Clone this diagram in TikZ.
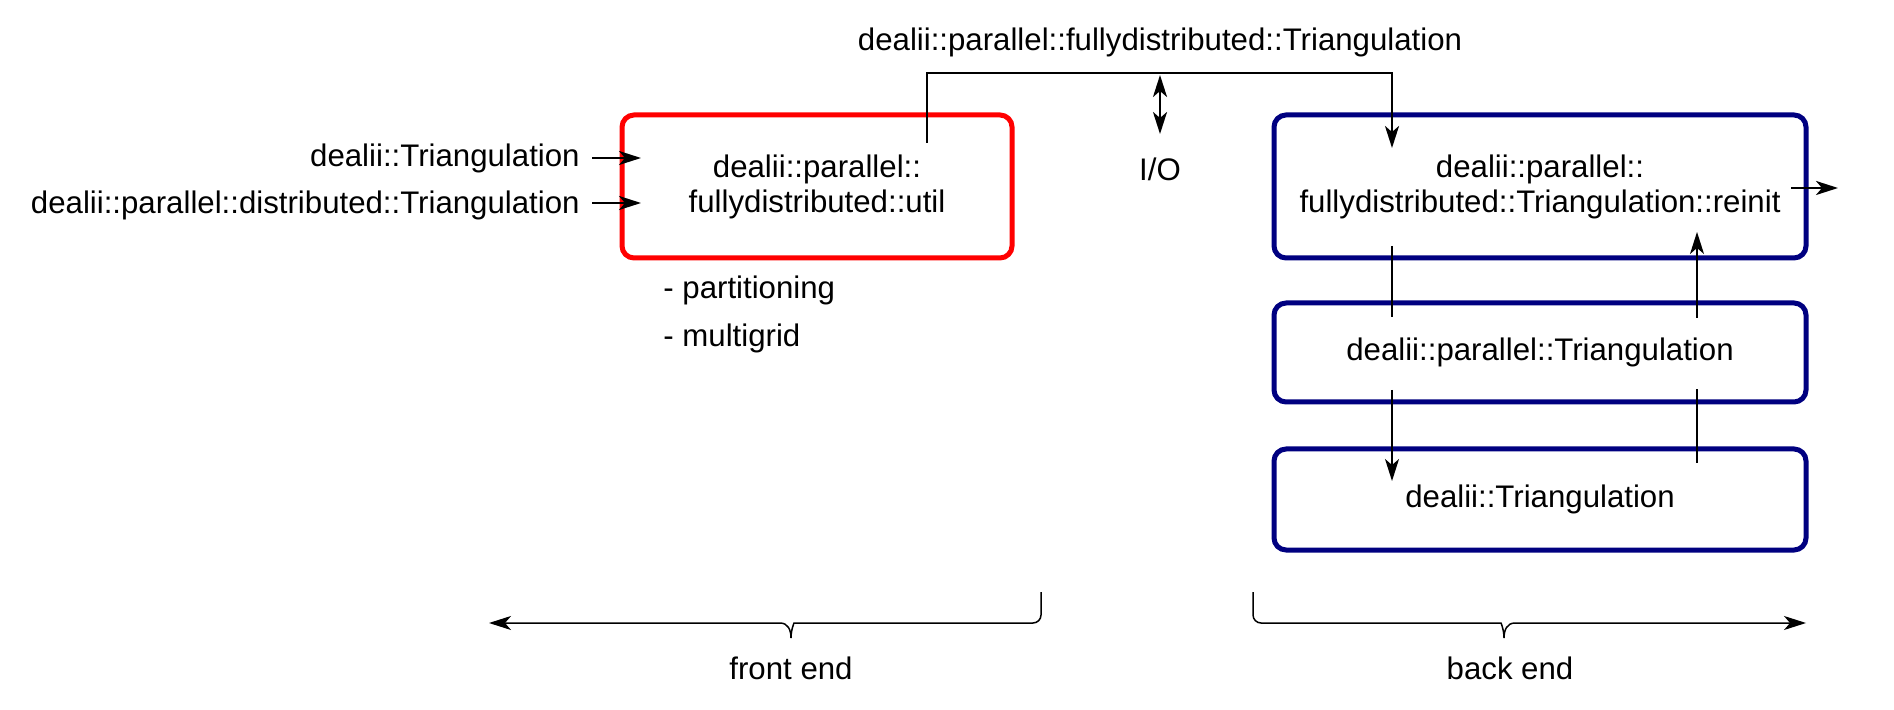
\documentclass[tikz,border=0pt]{standalone}
\usepackage{fontspec}
\setmainfont{Liberation Sans}
\usetikzlibrary{arrows.meta}
\definecolor{navyb}{RGB}{0,0,128}
\begin{document}
\begin{tikzpicture}[x=0.5pt,y=-0.5pt,
  every node/.style={font=\fontsize{15.6}{17.5}\selectfont, inner sep=0pt, align=center},
  tip/.style={-{Stealth[length=11pt,width=7pt,inset=3pt]}},
  dtip/.style={{Stealth[length=11pt,width=7pt,inset=3pt]}-{Stealth[length=11pt,width=7pt,inset=3pt]}},
  redbox/.style={draw=red, line width=2.5pt, rounded corners=6pt, minimum width=195pt, minimum height=71.5pt},
  bluebox/.style={draw=navyb, line width=2.5pt, rounded corners=6pt, minimum width=266pt},
  thick conn/.style={line width=1.3pt},
  thin conn/.style={line width=0.7pt},
  brace/.style={line width=0.75pt}]
\useasboundingbox (0,0) rectangle (1894,710);

% boxes
\node[redbox] (util) at (817,186.5) {dealii::parallel::\\fullydistributed::util};
\node[bluebox, minimum height=71.5pt] (reinit) at (1540,186.5) {dealii::parallel::\\fullydistributed::Triangulation::reinit};
\node[bluebox, minimum height=49.5pt] (ptria) at (1540,352.5) {dealii::parallel::Triangulation};
\node[bluebox, minimum height=50.5pt] (tria) at (1540,499.5) {dealii::Triangulation};

% texts
\node (fdt) at (1160,42) {dealii::parallel::fullydistributed::Triangulation};
\node (io) at (1160,169) {I/O};
\node[anchor=east] (in1) at (580,158) {dealii::Triangulation};
\node[anchor=east] (in2) at (580,205) {dealii::parallel::distributed::Triangulation};
\node[anchor=west] (part) at (663,290) {- partitioning};
\node[anchor=west] (mg) at (663,338) {- multigrid};
\node (fe) at (791,668) {front end};
\node (be) at (1510,668) {back end};

% coordinates
\coordinate (in1a) at (592,158);
\coordinate (in1b) at (641,158);
\coordinate (in2a) at (592,203);
\coordinate (in2b) at (641,203);
\coordinate (bs) at (927,143);
\coordinate (bt) at (1392,73);
\coordinate (be1) at (1392,148);
\coordinate (ioT) at (1160,75);
\coordinate (ioB) at (1160,134);
\coordinate (outA) at (1791,188);
\coordinate (outB) at (1838,188);
\coordinate (l1) at (1392,246);
\coordinate (l2) at (1392,317);
\coordinate (l3) at (1392,390);
\coordinate (l4) at (1392,481);
\coordinate (r1) at (1697,463);
\coordinate (r2) at (1697,389);
\coordinate (r3) at (1697,318);
\coordinate (r4) at (1697,232);
\coordinate (feR) at (1041,592);
\coordinate (feL) at (489,623);
\coordinate (beL) at (1253,592);
\coordinate (beR) at (1806,623);

% connectors
\draw[thick conn, tip] (in1a) -- (in1b);
\draw[thick conn, tip] (in2a) -- (in2b);
\draw[thick conn, tip] (bs) |- (bt) -- (be1);
\draw[thick conn, dtip] (ioT) -- (ioB);
\draw[thick conn, tip] (outA) -- (outB);
\draw[thin conn] (l1) -- (l2);
\draw[thin conn, tip] (l3) -- (l4);
\draw[thin conn] (r1) -- (r2);
\draw[thin conn, tip] (r3) -- (r4);

% braces
\draw[brace, tip] (feR) [rounded corners=4pt] |- (802,623) [sharp corners]
  .. controls (794,623) and (791,630) .. (791,638)
  .. controls (791,630) and (788,623) .. (780,623) -- (feL);
\draw[brace, tip] (beL) [rounded corners=4pt] |- (1493,623) [sharp corners]
  .. controls (1501,623) and (1504,630) .. (1504,638)
  .. controls (1504,630) and (1507,623) .. (1515,623) -- (beR);
\end{tikzpicture}
\end{document}
